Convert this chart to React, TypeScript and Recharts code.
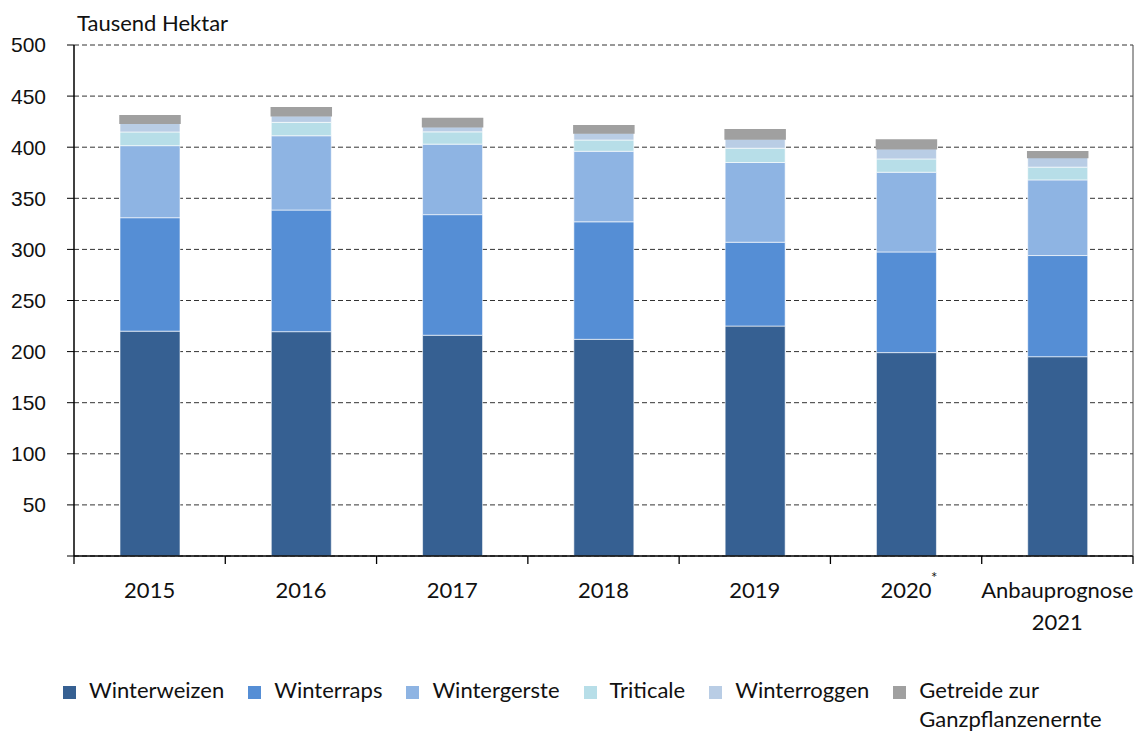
import { BarChart, Bar, XAxis, YAxis, CartesianGrid, Legend } from 'recharts'

const years = ['2015', '2016', '2017', '2018', '2019', '2020', '2021']
const yearLabels = [['2015'], ['2016'], ['2017'], ['2018'], ['2019'], ['2020*'], ['Anbauprognose', '2021']]
const winterweizen = [220, 219.5, 216, 212, 225, 199, 195]
const winterraps = [111, 119, 118, 115, 82, 98.5, 99]
const wintergerste = [70.5, 72.7, 69, 69, 78, 78, 74]
const triticale = [13.4, 13.1, 12, 11, 14, 13, 12.5]
const winterroggen = [8.5, 6.4, 5, 7, 9, 10, 9.5]
const ganzpflanzen = [7.4, 7.9, 8, 7, 9, 8.5, 5.5]
const yTicks = [0, 50, 100, 150, 200, 250, 300, 350, 400, 450, 500]

const SERIES = [
  { key: 'weizen', label: 'Winterweizen', color: '#366092' },
  { key: 'raps', label: 'Winterraps', color: '#558ED5' },
  { key: 'gerste', label: 'Wintergerste', color: '#8EB4E3' },
  { key: 'triticale', label: 'Triticale', color: '#B7DEE8' },
  { key: 'roggen', label: 'Winterroggen', color: '#B9CDE5' },
  { key: 'ganz', label: 'Getreide zur\nGanzpflanzenernte', color: '#A0A0A0' },
]

const data = years.map((y, i) => ({
  year: y,
  weizen: winterweizen[i],
  raps: winterraps[i],
  gerste: wintergerste[i],
  triticale: triticale[i],
  roggen: winterroggen[i],
  ganz: ganzpflanzen[i],
}))

const FONT = 'Lato, "Noto Sans", sans-serif'
const W = 1142, H = 733
const PLOT_L = 74, PLOT_R = 1133
const BAND = (PLOT_R - PLOT_L) / years.length

function XTick(props: any) {
  const { x, y, payload, index } = props
  const lines = yearLabels[index] ?? [payload.value]
  const half = BAND / 2
  return (
    <g>
      <line x1={x - half} x2={x - half} y1={y - 8} y2={y} stroke="#000" strokeWidth={1.3} />
      {index === years.length - 1 && (
        <line x1={x + half} x2={x + half} y1={y - 8} y2={y} stroke="#000" strokeWidth={1.3} />
      )}
      {lines.map((ln, k) => {
        const star = ln.endsWith('*')
        const txt = star ? ln.slice(0, -1) : ln
        return (
          <g key={k}>
            <text x={x} y={y + 34 + k * 32} textAnchor="middle" fontFamily={FONT} fontSize={22} fill="#111">{txt}</text>
            {star && <text x={x + 25} y={y + 19} fontFamily={FONT} fontSize={15} fill="#111">*</text>}
          </g>
        )
      })}
    </g>
  )
}

function LegendBox() {
  return (
    <div style={{ display: 'flex', alignItems: 'flex-start', fontFamily: FONT, fontSize: 22, color: '#111', paddingLeft: 63, gap: 24 }}>
      {SERIES.map(s => (
        <div key={s.key} style={{ display: 'flex', alignItems: 'flex-start' }}>
          <span style={{ width: 13, height: 13, background: s.color, marginTop: 7, marginRight: 13, flex: 'none' }} />
          <span style={{ whiteSpace: 'pre', lineHeight: '29px', marginTop: -4 }}>{s.label}</span>
        </div>
      ))}
    </div>
  )
}

export default function App() {
  return (
    <div style={{ position: 'absolute', left: 0, top: 0, width: W, height: H, background: '#fff' }}>
      <div style={{ position: 'absolute', left: 77, top: 9, fontFamily: FONT, fontSize: 22, color: '#111' }}>Tausend Hektar</div>
      <BarChart width={W} height={H} data={data} margin={{ top: 45, right: 0, left: 0, bottom: 117 }} barSize={60}>
        <CartesianGrid vertical={false} stroke="#333" strokeDasharray="5 3" />
        <XAxis dataKey="year" height={60} axisLine={{ stroke: '#000', strokeWidth: 1.5 }} tickLine={false} tick={<XTick />} interval={0} />
        <YAxis domain={[0, 500]} ticks={yTicks} width={PLOT_L} axisLine={{ stroke: '#000', strokeWidth: 1.5 }}
          tickLine={{ stroke: '#000' }} tickSize={7} tickMargin={21}
          tick={{ fontFamily: '"Liberation Sans", Arial, sans-serif', fontSize: 21, fill: '#111' }}
          tickFormatter={(v: number) => (v === 0 ? '' : String(v))} />
        <YAxis yAxisId="r" orientation="right" width={W - PLOT_R} tick={false} tickLine={false}
          axisLine={{ stroke: '#444', strokeWidth: 1 }} domain={[0, 500]} />
        {SERIES.map(s => (
          <Bar key={s.key} dataKey={s.key} stackId="a" fill={s.color} stroke={s.key === 'ganz' ? s.color : '#ffffff'}
            strokeWidth={s.key === 'ganz' ? 1.5 : 0.6} isAnimationActive={false} />
        ))}
        <Legend layout="horizontal" verticalAlign="middle" align="center" content={<LegendBox />}
          wrapperStyle={{ top: 679, left: 0, width: W }} />
      </BarChart>
    </div>
  )
}
